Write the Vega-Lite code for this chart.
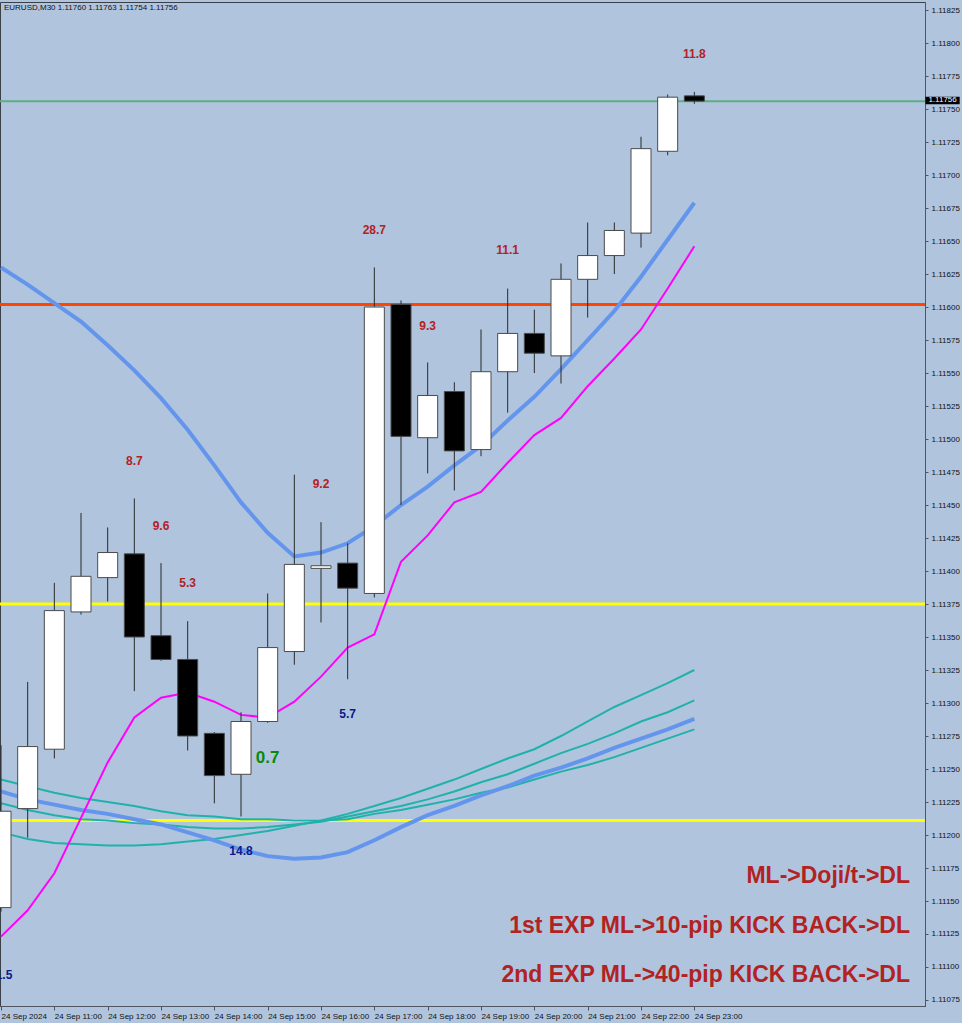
{
  "$schema": "https://vega.github.io/schema/vega-lite/v6.json",
  "width": 925,
  "height": 1004,
  "autosize": {"type": "none"},
  "padding": {"left": 0, "top": 2, "right": 37, "bottom": 17},
  "background": "#B0C4DE",
  "config": {
    "view": {"stroke": "#3a3f48", "strokeWidth": 1, "fill": "#B0C4DE"},
    "axis": {"grid": false, "title": null, "labelFont": "Liberation Sans", "labelFontSize": 8, "labelColor": "#111111", "tickColor": "#505560", "domainColor": "#505560"}
  },
  "datasets": {
    "candles": [
      {"t": "2024-09-24T10:00:00Z", "o": 1.11145, "h": 1.11268, "l": 1.11142, "c": 1.11218},
      {"t": "2024-09-24T10:30:00Z", "o": 1.11220, "h": 1.11316, "l": 1.11198, "c": 1.11267},
      {"t": "2024-09-24T11:00:00Z", "o": 1.11265, "h": 1.11391, "l": 1.11258, "c": 1.11370},
      {"t": "2024-09-24T11:30:00Z", "o": 1.11369, "h": 1.11444, "l": 1.11367, "c": 1.11396},
      {"t": "2024-09-24T12:00:00Z", "o": 1.11395, "h": 1.11433, "l": 1.11377, "c": 1.11414},
      {"t": "2024-09-24T12:30:00Z", "o": 1.11413, "h": 1.11455, "l": 1.11309, "c": 1.11350},
      {"t": "2024-09-24T13:00:00Z", "o": 1.11351, "h": 1.11406, "l": 1.11332, "c": 1.11333},
      {"t": "2024-09-24T13:30:00Z", "o": 1.11333, "h": 1.11362, "l": 1.11264, "c": 1.11275},
      {"t": "2024-09-24T14:00:00Z", "o": 1.11277, "h": 1.11278, "l": 1.11224, "c": 1.11245},
      {"t": "2024-09-24T14:30:00Z", "o": 1.11246, "h": 1.11293, "l": 1.11214, "c": 1.11286},
      {"t": "2024-09-24T15:00:00Z", "o": 1.11286, "h": 1.11383, "l": 1.11285, "c": 1.11342},
      {"t": "2024-09-24T15:30:00Z", "o": 1.11339, "h": 1.11473, "l": 1.11329, "c": 1.11405},
      {"t": "2024-09-24T16:00:00Z", "o": 1.11402, "h": 1.11437, "l": 1.11361, "c": 1.11404},
      {"t": "2024-09-24T16:30:00Z", "o": 1.11406, "h": 1.11421, "l": 1.11318, "c": 1.11387},
      {"t": "2024-09-24T17:00:00Z", "o": 1.11383, "h": 1.11630, "l": 1.11380, "c": 1.11600},
      {"t": "2024-09-24T17:30:00Z", "o": 1.11602, "h": 1.11605, "l": 1.11450, "c": 1.11502},
      {"t": "2024-09-24T18:00:00Z", "o": 1.11501, "h": 1.11558, "l": 1.11474, "c": 1.11533},
      {"t": "2024-09-24T18:30:00Z", "o": 1.11536, "h": 1.11543, "l": 1.11461, "c": 1.11491},
      {"t": "2024-09-24T19:00:00Z", "o": 1.11492, "h": 1.11583, "l": 1.11487, "c": 1.11551},
      {"t": "2024-09-24T19:30:00Z", "o": 1.11551, "h": 1.11614, "l": 1.11520, "c": 1.11580},
      {"t": "2024-09-24T20:00:00Z", "o": 1.11580, "h": 1.11598, "l": 1.11550, "c": 1.11565},
      {"t": "2024-09-24T20:30:00Z", "o": 1.11563, "h": 1.11633, "l": 1.11542, "c": 1.11621},
      {"t": "2024-09-24T21:00:00Z", "o": 1.11621, "h": 1.11664, "l": 1.11592, "c": 1.11639},
      {"t": "2024-09-24T21:30:00Z", "o": 1.11639, "h": 1.11664, "l": 1.11625, "c": 1.11658},
      {"t": "2024-09-24T22:00:00Z", "o": 1.11656, "h": 1.11729, "l": 1.11645, "c": 1.11720},
      {"t": "2024-09-24T22:30:00Z", "o": 1.11718, "h": 1.11761, "l": 1.11715, "c": 1.11759},
      {"t": "2024-09-24T23:00:00Z", "o": 1.11760, "h": 1.11763, "l": 1.11754, "c": 1.11756}
    ],
    "ma": [
      {"t": "2024-09-24T10:00:00Z", "b1": 1.11630, "m": 1.11123, "ta": 1.11202, "tb": 1.11224, "tc": 1.11242, "b2": 1.11233},
      {"t": "2024-09-24T10:30:00Z", "b1": 1.11617, "m": 1.11143, "ta": 1.11197, "tb": 1.11219, "tc": 1.11237, "b2": 1.11227},
      {"t": "2024-09-24T11:00:00Z", "b1": 1.11603, "m": 1.11171, "ta": 1.11194, "tb": 1.11215, "tc": 1.11232, "b2": 1.11223},
      {"t": "2024-09-24T11:30:00Z", "b1": 1.11589, "m": 1.11213, "ta": 1.11193, "tb": 1.11212, "tc": 1.11228, "b2": 1.11219},
      {"t": "2024-09-24T12:00:00Z", "b1": 1.11571, "m": 1.11255, "ta": 1.11192, "tb": 1.11211, "tc": 1.11225, "b2": 1.11216},
      {"t": "2024-09-24T12:30:00Z", "b1": 1.11552, "m": 1.11289, "ta": 1.11192, "tb": 1.11209, "tc": 1.11222, "b2": 1.11212},
      {"t": "2024-09-24T13:00:00Z", "b1": 1.11531, "m": 1.11304, "ta": 1.11193, "tb": 1.11208, "tc": 1.11218, "b2": 1.11208},
      {"t": "2024-09-24T13:30:00Z", "b1": 1.11507, "m": 1.11308, "ta": 1.11195, "tb": 1.11206, "tc": 1.11215, "b2": 1.11202},
      {"t": "2024-09-24T14:00:00Z", "b1": 1.11480, "m": 1.11301, "ta": 1.11197, "tb": 1.11205, "tc": 1.11214, "b2": 1.11196},
      {"t": "2024-09-24T14:30:00Z", "b1": 1.11452, "m": 1.11291, "ta": 1.11200, "tb": 1.11205, "tc": 1.11212, "b2": 1.11189},
      {"t": "2024-09-24T15:00:00Z", "b1": 1.11429, "m": 1.11289, "ta": 1.11203, "tb": 1.11206, "tc": 1.11212, "b2": 1.11184},
      {"t": "2024-09-24T15:30:00Z", "b1": 1.11411, "m": 1.11301, "ta": 1.11207, "tb": 1.11208, "tc": 1.11211, "b2": 1.11182},
      {"t": "2024-09-24T16:00:00Z", "b1": 1.11414, "m": 1.11320, "ta": 1.11211, "tb": 1.11210, "tc": 1.11211, "b2": 1.11183},
      {"t": "2024-09-24T16:30:00Z", "b1": 1.11421, "m": 1.11342, "ta": 1.11216, "tb": 1.11214, "tc": 1.11212, "b2": 1.11187},
      {"t": "2024-09-24T17:00:00Z", "b1": 1.11434, "m": 1.11352, "ta": 1.11222, "tb": 1.11218, "tc": 1.11216, "b2": 1.11196},
      {"t": "2024-09-24T17:30:00Z", "b1": 1.11450, "m": 1.11407, "ta": 1.11228, "tb": 1.11222, "tc": 1.11219, "b2": 1.11206},
      {"t": "2024-09-24T18:00:00Z", "b1": 1.11464, "m": 1.11427, "ta": 1.11235, "tb": 1.11227, "tc": 1.11223, "b2": 1.11215},
      {"t": "2024-09-24T18:30:00Z", "b1": 1.11480, "m": 1.11452, "ta": 1.11242, "tb": 1.11233, "tc": 1.11227, "b2": 1.11222},
      {"t": "2024-09-24T19:00:00Z", "b1": 1.11495, "m": 1.11460, "ta": 1.11250, "tb": 1.11240, "tc": 1.11232, "b2": 1.11230},
      {"t": "2024-09-24T19:30:00Z", "b1": 1.11514, "m": 1.11482, "ta": 1.11258, "tb": 1.11246, "tc": 1.11236, "b2": 1.11237},
      {"t": "2024-09-24T20:00:00Z", "b1": 1.11532, "m": 1.11503, "ta": 1.11265, "tb": 1.11254, "tc": 1.11242, "b2": 1.11245},
      {"t": "2024-09-24T20:30:00Z", "b1": 1.11553, "m": 1.11516, "ta": 1.11275, "tb": 1.11262, "tc": 1.11248, "b2": 1.11251},
      {"t": "2024-09-24T21:00:00Z", "b1": 1.11575, "m": 1.11540, "ta": 1.11286, "tb": 1.11269, "tc": 1.11253, "b2": 1.11258},
      {"t": "2024-09-24T21:30:00Z", "b1": 1.11597, "m": 1.11561, "ta": 1.11297, "tb": 1.11277, "tc": 1.11259, "b2": 1.11266},
      {"t": "2024-09-24T22:00:00Z", "b1": 1.11623, "m": 1.11583, "ta": 1.11306, "tb": 1.11286, "tc": 1.11266, "b2": 1.11273},
      {"t": "2024-09-24T22:30:00Z", "b1": 1.11651, "m": 1.11614, "ta": 1.11315, "tb": 1.11293, "tc": 1.11273, "b2": 1.11280},
      {"t": "2024-09-24T23:00:00Z", "b1": 1.11679, "m": 1.11646, "ta": 1.11325, "tb": 1.11302, "tc": 1.11280, "b2": 1.11288}
    ],
    "hlines": [
      {"name": "resistance", "p": 1.11602},
      {"name": "upper", "p": 1.11375},
      {"name": "lower", "p": 1.11211},
      {"name": "bid", "p": 1.11756}
    ],
    "labels": [
      {"t": "2024-09-24T10:00:00Z", "p": 1.11094, "text": "11.5", "kind": "navy"},
      {"t": "2024-09-24T12:30:00Z", "p": 1.11483, "text": "8.7", "kind": "red"},
      {"t": "2024-09-24T13:00:00Z", "p": 1.11434, "text": "9.6", "kind": "red"},
      {"t": "2024-09-24T13:30:00Z", "p": 1.11391, "text": "5.3", "kind": "red"},
      {"t": "2024-09-24T14:30:00Z", "p": 1.11188, "text": "14.8", "kind": "navy"},
      {"t": "2024-09-24T15:00:00Z", "p": 1.11258, "text": "0.7", "kind": "green"},
      {"t": "2024-09-24T16:00:00Z", "p": 1.11466, "text": "9.2", "kind": "red"},
      {"t": "2024-09-24T16:30:00Z", "p": 1.11292, "text": "5.7", "kind": "navy"},
      {"t": "2024-09-24T17:00:00Z", "p": 1.11658, "text": "28.7", "kind": "red"},
      {"t": "2024-09-24T18:00:00Z", "p": 1.11586, "text": "9.3", "kind": "red"},
      {"t": "2024-09-24T19:30:00Z", "p": 1.11643, "text": "11.1", "kind": "red"},
      {"t": "2024-09-24T23:00:00Z", "p": 1.11792, "text": "11.8", "kind": "red"}
    ],
    "notes": [
      {"t": "2024-09-25T03:02:37Z", "p": 1.11164, "text": "ML->Doji/t->DL"},
      {"t": "2024-09-25T03:02:37Z", "p": 1.11126, "text": "1st EXP ML->10-pip KICK BACK->DL"},
      {"t": "2024-09-25T03:02:37Z", "p": 1.11089, "text": "2nd EXP ML->40-pip KICK BACK->DL"}
    ],
    "header": [
      {"t": "2024-09-24T10:03:20Z", "p": 1.118263, "text": "EURUSD,M30  1.11760 1.11763 1.11754 1.11756"}
    ],
    "pricebox": [
      {"t": "2024-09-25T03:20:00Z", "t2": "2024-09-25T03:58:30Z", "tm": "2024-09-25T03:39:15Z", "p1": 1.117593, "p2": 1.117536, "pm": 1.117565, "text": "1.11756"}
    ]
  },
  "encoding": {
    "x": {
      "field": "t", "type": "temporal",
      "scale": {"type": "utc", "padding": 0, "nice": false, "domain": [
        {"year": 2024, "month": 9, "date": 24, "hours": 9, "minutes": 58, "seconds": 52, "utc": true},
        {"year": 2024, "month": 9, "date": 25, "hours": 3, "minutes": 19, "seconds": 30, "utc": true}
      ]},
      "axis": {
        "values": [
          {"year": 2024, "month": 9, "date": 24, "hours": 10, "utc": true},
          {"year": 2024, "month": 9, "date": 24, "hours": 11, "utc": true},
          {"year": 2024, "month": 9, "date": 24, "hours": 12, "utc": true},
          {"year": 2024, "month": 9, "date": 24, "hours": 13, "utc": true},
          {"year": 2024, "month": 9, "date": 24, "hours": 14, "utc": true},
          {"year": 2024, "month": 9, "date": 24, "hours": 15, "utc": true},
          {"year": 2024, "month": 9, "date": 24, "hours": 16, "utc": true},
          {"year": 2024, "month": 9, "date": 24, "hours": 17, "utc": true},
          {"year": 2024, "month": 9, "date": 24, "hours": 18, "utc": true},
          {"year": 2024, "month": 9, "date": 24, "hours": 19, "utc": true},
          {"year": 2024, "month": 9, "date": 24, "hours": 20, "utc": true},
          {"year": 2024, "month": 9, "date": 24, "hours": 21, "utc": true},
          {"year": 2024, "month": 9, "date": 24, "hours": 22, "utc": true},
          {"year": 2024, "month": 9, "date": 24, "hours": 23, "utc": true}
        ],
        "labelExpr": "utchours(datum.value) == 10 ? '24 Sep 2024' : '24 Sep ' + utcFormat(datum.value, '%H:%M')",
        "labelAlign": "left", "labelPadding": 2, "tickSize": 4, "labelOverlap": false, "labelFlush": false
      }
    },
    "y": {
      "type": "quantitative",
      "scale": {"domain": [1.1107045, 1.118311], "nice": false, "zero": false},
      "axis": {
        "orient": "right", "format": ".5f", "tickSize": 3, "labelPadding": 3, "labelOverlap": false, "labelFlush": false,
        "values": [1.11075, 1.111, 1.11125, 1.1115, 1.11175, 1.112, 1.11225, 1.1125, 1.11275, 1.113, 1.11325, 1.1135, 1.11375, 1.114, 1.11425, 1.1145, 1.11475, 1.115, 1.11525, 1.1155, 1.11575, 1.116, 1.11625, 1.1165, 1.11675, 1.117, 1.11725, 1.1175, 1.11775, 1.118, 1.11825]
      }
    }
  },
  "layer": [
    {
      "data": {"name": "hlines"},
      "mark": {"type": "rule"},
      "encoding": {
        "x": null,
        "y": {"field": "p", "type": "quantitative"},
        "color": {"condition": [
          {"test": "datum.name == 'resistance'", "value": "#FF4500"},
          {"test": "datum.name == 'bid'", "value": "#5DAE80"}
        ], "value": "#FFFF00"},
        "strokeWidth": {"condition": {"test": "datum.name == 'bid'", "value": 2}, "value": 3}
      }
    },
    {"data": {"name": "ma"}, "mark": {"type": "line", "color": "#20B2AA", "strokeWidth": 2, "clip": true}, "encoding": {"y": {"field": "tc"}}},
    {"data": {"name": "ma"}, "mark": {"type": "line", "color": "#20B2AA", "strokeWidth": 2, "clip": true}, "encoding": {"y": {"field": "tb"}}},
    {"data": {"name": "ma"}, "mark": {"type": "line", "color": "#20B2AA", "strokeWidth": 2, "clip": true}, "encoding": {"y": {"field": "ta"}}},
    {"data": {"name": "ma"}, "mark": {"type": "line", "color": "#6495ED", "strokeWidth": 4, "clip": true}, "encoding": {"y": {"field": "b2"}}},
    {"data": {"name": "ma"}, "mark": {"type": "line", "color": "#6495ED", "strokeWidth": 4, "clip": true}, "encoding": {"y": {"field": "b1"}}},
    {"data": {"name": "ma"}, "mark": {"type": "line", "color": "#FF00FF", "strokeWidth": 2, "clip": true}, "encoding": {"y": {"field": "m"}}},
    {
      "data": {"name": "candles"},
      "mark": {"type": "rule", "color": "#2b2b2b", "strokeWidth": 1, "clip": true},
      "encoding": {"y": {"field": "l"}, "y2": {"field": "h"}}
    },
    {
      "data": {"name": "candles"},
      "mark": {"type": "bar", "size": 20, "stroke": "#4a4a4a", "strokeWidth": 1, "clip": true},
      "encoding": {
        "y": {"field": "o"}, "y2": {"field": "c"},
        "fill": {"condition": {"test": "datum.c >= datum.o", "value": "#FFFFFF"}, "value": "#000000"}
      }
    },
    {
      "data": {"name": "labels"},
      "mark": {"type": "text", "font": "Liberation Sans", "fontWeight": "bold", "baseline": "middle", "align": "center", "clip": true},
      "encoding": {
        "y": {"field": "p"},
        "text": {"field": "text"},
        "color": {"condition": [
          {"test": "datum.kind == 'navy'", "value": "#0A1A8C"},
          {"test": "datum.kind == 'green'", "value": "#0A8A0A"}
        ], "value": "#B22222"},
        "size": {"condition": {"test": "datum.kind == 'green'", "value": 17}, "value": 12}
      }
    },
    {
      "data": {"name": "notes"},
      "mark": {"type": "text", "font": "Liberation Sans", "fontWeight": "bold", "fontSize": 23, "align": "right", "baseline": "alphabetic", "color": "#B22222"},
      "encoding": {"y": {"field": "p"}, "text": {"field": "text"}}
    },
    {
      "data": {"name": "header"},
      "mark": {"type": "text", "font": "Liberation Sans", "fontSize": 8, "align": "left", "baseline": "middle", "color": "#111111"},
      "encoding": {"y": {"field": "p"}, "text": {"field": "text"}}
    },
    {
      "data": {"name": "pricebox"},
      "mark": {"type": "rect", "color": "#000000"},
      "encoding": {"x": {"field": "t"}, "x2": {"field": "t2"}, "y": {"field": "p1"}, "y2": {"field": "p2"}}
    },
    {
      "data": {"name": "pricebox"},
      "mark": {"type": "text", "font": "Liberation Sans", "fontSize": 8, "align": "center", "baseline": "middle", "color": "#FFFFFF"},
      "encoding": {"x": {"field": "tm"}, "y": {"field": "pm"}, "text": {"field": "text"}}
    }
  ]
}
